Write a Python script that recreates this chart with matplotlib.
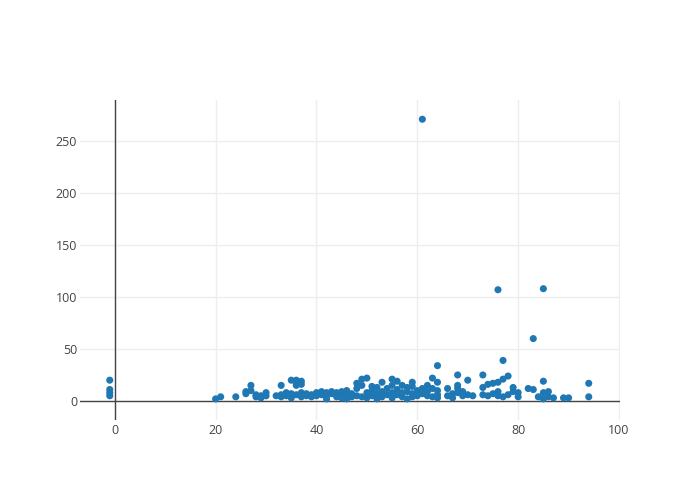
import matplotlib
matplotlib.use("Agg")
import matplotlib.pyplot as plt

x_vals = [-1, -1, -1, -1,
          20, 21, 24, 26, 26, 27, 27, 28, 28, 29, 29, 30, 30, 32,
          33, 33, 33, 34, 34, 35, 35, 35, 36, 36, 36, 36, 37, 37, 37, 37,
          38, 38, 39, 39, 40, 40, 41, 41, 42, 42, 42, 43, 43, 44, 44, 44,
          45, 45, 45, 46, 46, 46, 47, 47, 48, 48, 48, 49, 49, 49,
          50, 50, 50, 51, 51, 51, 52, 52, 52, 53, 53, 53, 54, 54,
          55, 55, 55, 55, 56, 56, 56, 57, 57, 57, 58, 58, 58,
          59, 59, 59, 59, 60, 60, 61, 61, 61, 62, 62, 62, 63, 63, 63,
          64, 64, 64, 64, 64, 66, 66, 67, 67, 68, 68, 68, 68, 69, 69,
          70, 70, 71, 73, 73, 73, 74, 74, 75, 75, 76, 76, 76, 76,
          77, 77, 77, 78, 78, 79, 79, 80, 80, 82, 83, 83, 84,
          85, 85, 85, 85, 86, 86, 87, 89, 90, 94, 94]
y_vals = [20, 11, 8, 5,
          2, 4, 4, 7, 9, 10, 15, 6, 4, 3, 5, 5, 8, 5,
          6, 15, 4, 5, 8, 20, 3, 7, 20, 17, 15, 6, 19, 16, 4, 8,
          5, 7, 6, 4, 8, 5, 9, 6, 2, 8, 5, 7, 9, 6, 4, 8,
          5, 3, 9, 2, 6, 10, 4, 7, 12, 17, 5, 21, 15, 4,
          22, 8, 3, 14, 10, 5, 13, 7, 2, 18, 9, 4, 12, 6,
          21, 15, 8, 3, 19, 11, 6, 15, 8, 4, 9, 2, 13,
          18, 14, 7, 4, 10, 5, 12, 271, 7, 15, 9, 5, 22, 12, 4,
          34, 18, 10, 6, 3, 12, 5, 7, 3, 25, 15, 12, 8, 9, 5,
          20, 6, 5, 25, 13, 6, 16, 5, 17, 7, 107, 18, 9, 5,
          39, 21, 4, 24, 6, 13, 9, 8, 4, 12, 60, 11, 4,
          108, 19, 8, 2, 9, 4, 3, 3, 3, 17, 4]

x_ticks = [0, 20, 40, 60, 80, 100]
y_ticks = [0, 50, 100, 150, 200, 250]

plt.rcParams['font.family'] = ['Open Sans', 'DejaVu Sans']
fig = plt.figure(figsize=(7, 5), dpi=100)
ax = fig.add_axes([80/700, 80/500, 540/700, 320/500])
ax.scatter(x_vals, y_vals, s=26, color='#1f77b4', edgecolors='none', zorder=3)
ax.set_xlim(-6.9, 100.2)
ax.set_ylim(-18.3, 289.5)
ax.set_xticks(x_ticks)
ax.set_yticks(y_ticks)
ax.grid(True, color='#eeeeee', linewidth=1, zorder=0)
ax.axhline(0, color='#444444', linewidth=1, zorder=2)
ax.axvline(0, color='#444444', linewidth=1, zorder=2)
for s in ax.spines.values():
    s.set_visible(False)
ax.tick_params(axis='y', length=0, labelsize=9, colors='#444444', pad=2)
ax.tick_params(axis='x', length=0, labelsize=9, colors='#444444', pad=3)
fig.savefig('out.png', dpi=100)
